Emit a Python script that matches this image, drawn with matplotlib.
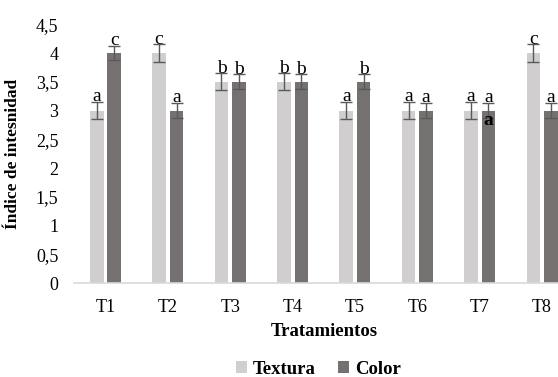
import matplotlib
matplotlib.use("Agg")
import matplotlib.pyplot as plt
import numpy as np

categories = ["T1", "T2", "T3", "T4", "T5", "T6", "T7", "T8"]
textura = [3, 4, 3.5, 3.5, 3, 3, 3, 4]
color = [4, 3, 3.5, 3.5, 3.5, 3, 3, 3]
err_textura = [0.15, 0.15, 0.15, 0.15, 0.15, 0.15, 0.15, 0.15]
err_color = [0.13, 0.13, 0.13, 0.13, 0.13, 0.13, 0.13, 0.13]
letters_textura = ["a", "c", "b", "b", "a", "a", "a", "c"]
letters_color = ["c", "a", "b", "b", "b", "a", "a", "a"]
yticks = [0, 0.5, 1, 1.5, 2, 2.5, 3, 3.5, 4, 4.5]
ytick_labels = ["0", "0,5", "1", "1,5", "2", "2,5", "3", "3,5", "4", "4,5"]

plt.rcParams['font.family'] = ['Liberation Serif', 'DejaVu Serif']

fig = plt.figure(figsize=(5.58, 3.77), dpi=100)
ax = fig.add_axes([74.3 / 558, 94 / 377, 498.9 / 558, 258.75 / 377])

x = np.arange(len(categories))
w = 0.217
off = 0.14
c_light = "#d0cece"
c_dark = "#767171"
ecol = "#595959"

ax.bar(x - off, textura, w, color=c_light, label="Textura",
       yerr=err_textura, error_kw=dict(ecolor=ecol, elinewidth=1, capsize=4, capthick=1))
ax.bar(x + off, color, w, color=c_dark, label="Color",
       yerr=err_color, error_kw=dict(ecolor=ecol, elinewidth=1, capsize=4, capthick=1))

for i in range(len(categories)):
    ax.text(x[i] - off, textura[i] + err_textura[i] + 0.01, letters_textura[i],
            ha="center", va="baseline", fontsize=14, color="black")
    ax.text(x[i] + off, color[i] + err_color[i] + 0.01, letters_color[i],
            ha="center", va="baseline", fontsize=14, color="black")
# extra overlapping letter inside T7 colour bar
ax.text(x[6] + off, color[6] - 0.03, letters_color[6], ha="center", va="top",
        fontsize=14, color="black", fontweight="bold")

ax.set_xlim(-0.5, 7.5)
ax.set_ylim(0, 4.5)
ax.set_yticks(yticks)
ax.set_yticklabels(ytick_labels, fontsize=13)
ax.set_xticks(x)
ax.set_xticklabels(categories, fontsize=13)
ax.tick_params(axis="both", length=0)
ax.tick_params(axis="y", pad=11.5)
ax.tick_params(axis="x", pad=11.5)

for s in ["top", "right", "left"]:
    ax.spines[s].set_visible(False)
ax.spines["bottom"].set_color("#d9d9d9")
ax.spines["bottom"].set_linewidth(1.2)

fig.text(13 / 558, 1 - 154 / 377, "Índice de intesnidad", rotation=90,
         ha="center", va="center", fontsize=12.5, fontweight="bold")
fig.text(324 / 558, 1 - 332 / 377, "Tratamientos", ha="center", va="center",
         fontsize=13.5, fontweight="bold")

handles, labels = ax.get_legend_handles_labels()
leg = fig.legend(handles, labels, loc="center", bbox_to_anchor=(318 / 558, 1 - 369 / 377),
                 ncol=2, frameon=False, prop=dict(size=13.5, weight="bold"),
                 handlelength=0.6, handleheight=0.6, handletextpad=0.3, columnspacing=1.2)

fig.savefig("out.png", dpi=100)
